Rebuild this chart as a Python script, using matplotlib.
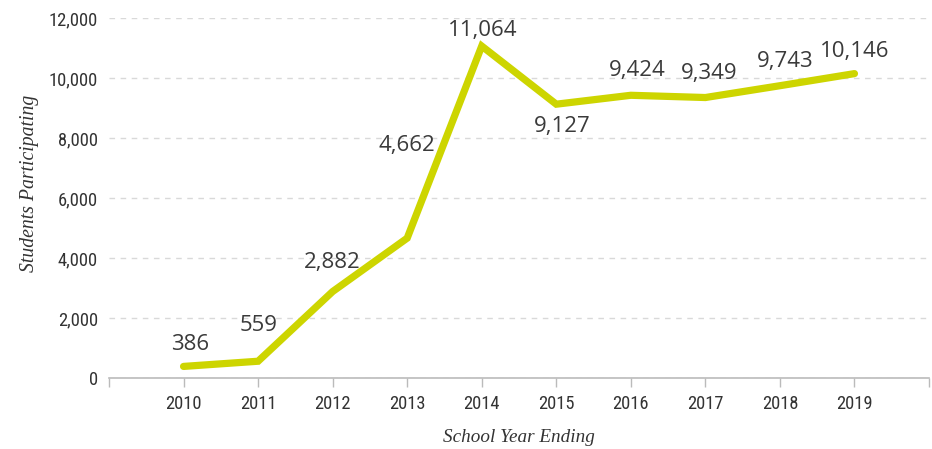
import matplotlib
matplotlib.use("Agg")
import matplotlib.pyplot as plt

years = [2010, 2011, 2012, 2013, 2014, 2015, 2016, 2017, 2018, 2019]
students = [386, 559, 2882, 4662, 11064, 9127, 9424, 9349, 9743, 10146]
y_ticks = [0, 2000, 4000, 6000, 8000, 10000, 12000]

# label offsets in pixels (dx, dy) relative to points
label_offsets = [(7, 22), (1, 36), (0, 29), (0, 93), (1, 16), (6, -22), (6, 25), (4, 24), (5, 24), (0, 22)]

line_color = "#cdd500"
text_color = "#333333"
grid_color = "#d9d9d9"
spine_color = "#bbbbbb"

fig = plt.figure(figsize=(9.32, 4.49), dpi=100)
ax = fig.add_axes([109/932, (449-378)/449, (929-109)/932, 360/449])

ax.plot(years, students, color=line_color, lw=5.2, solid_capstyle="round", solid_joinstyle="miter", zorder=3)

for x, y, (dx, dy) in zip(years, students, label_offsets):
    ax.annotate(f"{y:,}", (x, y), xytext=(dx * 0.72, dy * 0.72), textcoords="offset points",
                ha="center", va="center", fontsize=16, color="#3a3a3a",
                family=["Open Sans", "DejaVu Sans"])

ax.set_xlim(2009, 2020)
ax.set_ylim(0, 12000)
xt = [2009] + years + [2020]
ax.set_xticks(xt)
ax.set_xticklabels([""] + [str(y) for y in years] + [""])
ax.set_yticks(y_ticks)
ax.set_yticklabels([f"{v:,}" for v in y_ticks])

cond = ["Roboto Condensed", "Liberation Sans Narrow", "Roboto", "DejaVu Sans"]
for lab in ax.get_xticklabels() + ax.get_yticklabels():
    lab.set_family(cond)
    lab.set_fontsize(13.3)
    lab.set_color(text_color)

ax.tick_params(axis="x", length=6.5, width=1, color=spine_color, pad=6)
ax.tick_params(axis="y", length=0, pad=8)

for s in ["left", "right", "top"]:
    ax.spines[s].set_visible(False)
ax.spines["bottom"].set_color(spine_color)
ax.spines["bottom"].set_linewidth(1.2)

ax.yaxis.grid(True, color=grid_color, linestyle=(0, (4, 4)), lw=1)
ax.set_axisbelow(True)

serif = ["Liberation Serif", "DejaVu Serif"]
fig.text(30/932, 1 - 183/449, "Students Participating", family=serif, style="italic",
         fontsize=14.2, color=text_color, rotation=90, ha="center", va="center")
fig.text(519/932, 1 - 437/449, "School Year Ending", family=serif, style="italic",
         fontsize=13.8, color=text_color, ha="center", va="center")

fig.savefig("out.png", dpi=100)
